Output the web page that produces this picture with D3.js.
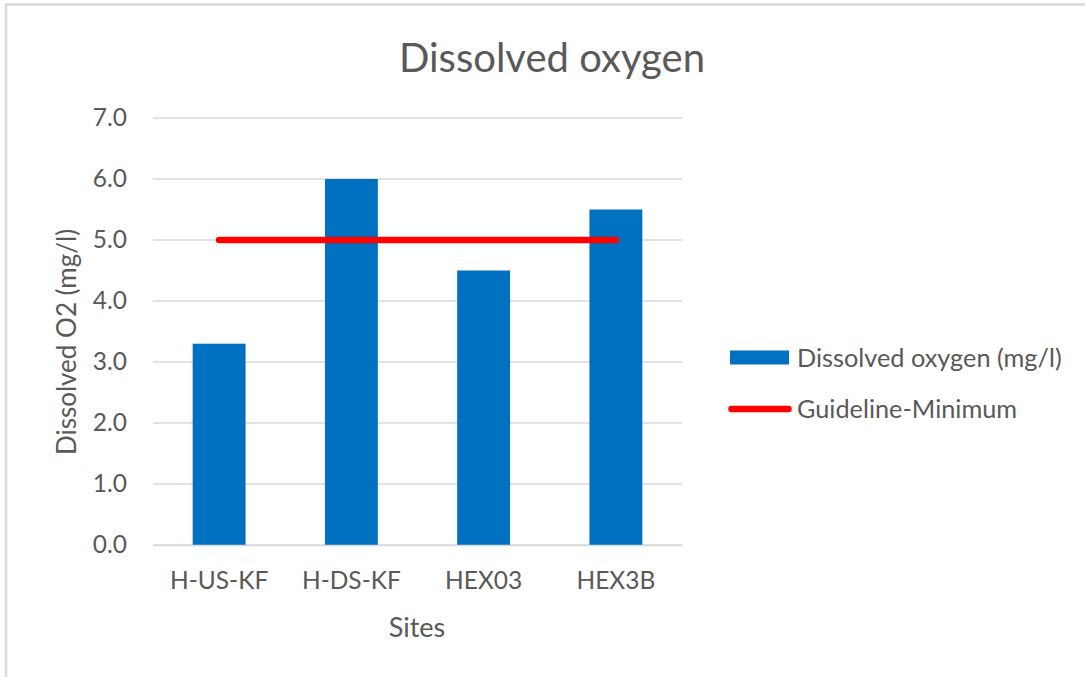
<!DOCTYPE html>
<html>
<head>
<meta charset="utf-8">
<script src="https://cdn.jsdelivr.net/npm/d3@7/dist/d3.min.js"></script>
<style>
  html, body { margin: 0; padding: 0; background: #fff; }
  svg { display: block; font-family: Lato, "Open Sans", sans-serif; }
</style>
</head>
<body>
<svg id="chart" width="1085" height="677"></svg>
<script>
// Site categories and measured dissolved oxygen (mg/l)
const sites = ["H-US-KF", "H-DS-KF", "HEX03", "HEX3B"];
const oxygenValues = [3.3, 6.0, 4.5, 5.5];
// Minimum guideline value applied at each site
const guidelineValues = [5.0, 5.0, 5.0, 5.0];
const yTicks = [0, 1, 2, 3, 4, 5, 6, 7];

const svg = d3.select("#chart");
const textColor = "#595959";
const fontFamily = "Lato, 'Open Sans', sans-serif";

// Outer chart frame
svg.append("rect")
  .attr("x", 6).attr("y", 4.5)
  .attr("width", 1100).attr("height", 700)
  .attr("fill", "#fff")
  .attr("stroke", "#d9d9d9").attr("stroke-width", 2.5);

const plot = { left: 153, right: 682, top: 118, bottom: 545 };

const x = d3.scaleBand()
  .domain(sites)
  .range([plot.left, plot.right])
  .paddingInner(0.6)
  .paddingOuter(0.3);

const y = d3.scaleLinear()
  .domain([0, 7])
  .range([plot.bottom, plot.top]);

// Horizontal gridlines
svg.append("g")
  .selectAll("line")
  .data(yTicks)
  .join("line")
  .attr("x1", plot.left).attr("x2", plot.right)
  .attr("y1", d => y(d)).attr("y2", d => y(d))
  .attr("stroke", "#d9d9d9").attr("stroke-width", 1.5);

// Y axis tick labels
const yAxis = d3.axisLeft(y).tickValues(yTicks).tickFormat(d3.format(".1f")).tickSize(0).tickPadding(26);
const gy = svg.append("g").attr("transform", `translate(${plot.left},0)`).call(yAxis);
gy.select(".domain").remove();
gy.selectAll("text").attr("fill", textColor).style("font-size", "24.5px").style("font-family", fontFamily);

// Bars
svg.append("g")
  .selectAll("rect")
  .data(sites)
  .join("rect")
  .attr("x", d => x(d))
  .attr("width", x.bandwidth())
  .attr("y", (d, i) => y(oxygenValues[i]))
  .attr("height", (d, i) => y(0) - y(oxygenValues[i]))
  .attr("fill", "#0070c0");

// X axis labels
const xAxis = d3.axisBottom(x).tickSize(0).tickPadding(27);
const gx = svg.append("g").attr("transform", `translate(0,${plot.bottom})`).call(xAxis);
gx.select(".domain").attr("stroke", "#d9d9d9").attr("stroke-width", 1.5);
gx.selectAll("text").attr("fill", textColor).style("font-size", "24.5px").style("font-family", fontFamily);

// Guideline line through category centres
const line = d3.line()
  .x((d, i) => x(sites[i]) + x.bandwidth() / 2)
  .y(d => y(d));
svg.append("path")
  .datum(guidelineValues)
  .attr("d", line)
  .attr("fill", "none")
  .attr("stroke", "#ff0000")
  .attr("stroke-width", 6.5)
  .attr("stroke-linecap", "round");

// Title
svg.append("text")
  .attr("x", 552).attr("y", 72)
  .attr("text-anchor", "middle")
  .attr("fill", textColor)
  .style("font-size", "40px")
  .text("Dissolved oxygen");

// Axis titles
svg.append("text")
  .attr("transform", "translate(76,342) rotate(-90)")
  .attr("text-anchor", "middle")
  .attr("fill", textColor)
  .style("font-size", "26px")
  .text("Dissolved O2 (mg/l)");

svg.append("text")
  .attr("x", 417).attr("y", 637)
  .attr("text-anchor", "middle")
  .attr("fill", textColor)
  .style("font-size", "27px")
  .text("Sites");

// Legend
const legend = svg.append("g");
legend.append("rect")
  .attr("x", 730).attr("y", 350.5)
  .attr("width", 59).attr("height", 14)
  .attr("fill", "#0070c0");
legend.append("text")
  .attr("x", 797).attr("y", 367)
  .attr("fill", textColor)
  .style("font-size", "25.3px")
  .text("Dissolved oxygen (mg/l)");
legend.append("line")
  .attr("x1", 731.5).attr("x2", 788.5)
  .attr("y1", 409).attr("y2", 409)
  .attr("stroke", "#ff0000")
  .attr("stroke-width", 6.5)
  .attr("stroke-linecap", "round");
legend.append("text")
  .attr("x", 797).attr("y", 418)
  .attr("fill", textColor)
  .style("font-size", "25.3px")
  .text("Guideline-Minimum");
</script>
</body>
</html>
